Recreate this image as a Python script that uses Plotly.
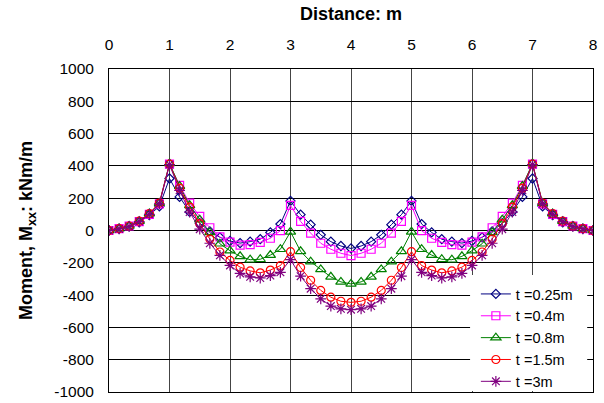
import plotly.graph_objects as go

distance = [0.000, 0.167, 0.333, 0.500, 0.667, 0.833, 1.000, 1.167, 1.333, 1.500, 1.667, 1.833,
            2.000, 2.167, 2.333, 2.500, 2.667, 2.833, 3.000, 3.167, 3.333, 3.500, 3.667, 3.833,
            4.000, 4.167, 4.333, 4.500, 4.667, 4.833, 5.000, 5.167, 5.333, 5.500, 5.667, 5.833,
            6.000, 6.167, 6.333, 6.500, 6.667, 6.833, 7.000, 7.167, 7.333, 7.500, 7.667, 7.833, 8.000]

m_025 = [0, 10, 25, 50, 95, 150, 322, 208, 115, 45, -5, -42, -65, -78, -69, -54, -12, 40,
         183, 98, 36, -27, -69, -96, -111, -96, -69, -27, 36, 98, 183, 40, -12, -54, -69, -78,
         -65, -42, -5, 45, 115, 208, 322, 150, 95, 50, 25, 10, 0]
m_04 = [0, 12, 28, 55, 100, 165, 411, 280, 170, 87, 17, -40, -72, -90, -88, -74, -48, -1,
        155, 56, -16, -79, -116, -141, -155, -141, -116, -79, -16, 56, 155, -1, -48, -74, -88, -90,
        -72, -40, 17, 87, 170, 280, 411, 165, 100, 55, 28, 12, 0]
m_08 = [0, 12, 28, 58, 105, 170, 415, 275, 156, 67, -12, -82, -125, -160, -181, -178, -152, -116,
        -8, -129, -193, -241, -287, -318, -331, -318, -287, -241, -193, -129, -8, -116, -152, -178, -181, -160,
        -125, -82, -12, 67, 156, 275, 415, 170, 105, 58, 28, 12, 0]
m_15 = [0, 12, 28, 58, 105, 170, 411, 262, 145, 42, -53, -133, -185, -227, -250, -262, -245, -217,
        -131, -229, -308, -371, -413, -438, -445, -438, -413, -371, -308, -229, -131, -217, -245, -262, -250, -227,
        -185, -133, -53, 42, 145, 262, 411, 170, 105, 58, 28, 12, 0]
m_3 = [0, 10, 25, 55, 100, 165, 408, 249, 114, 8, -79, -154, -216, -266, -287, -294, -279, -259,
       -180, -283, -360, -423, -468, -485, -490, -485, -468, -423, -360, -283, -180, -259, -279, -294, -287, -266,
       -216, -154, -79, 8, 114, 249, 408, 165, 100, 55, 25, 10, 0]

series_names = ["t =0.25m", "t =0.4m", "t =0.8m", "t =1.5m", "t =3m"]
series_values = [m_025, m_04, m_08, m_15, m_3]
colors = ["#000080", "#FF00FF", "#008000", "#FF0000", "#800080"]
symbols = ["diamond-open", "square-open", "triangle-up-open", "circle-open", "asterisk-open"]
sizes = [7, 8, 9, 8, 9]

x_ticks = [0, 1, 2, 3, 4, 5, 6, 7, 8]
y_ticks = [-1000, -800, -600, -400, -200, 0, 200, 400, 600, 800, 1000]

font_family = "Arial, Liberation Sans, sans-serif"

fig = go.Figure()
for name, vals, c, s, sz in zip(series_names, series_values, colors, symbols, sizes):
    fig.add_trace(go.Scatter(
        x=distance, y=vals, name=name, mode="lines+markers",
        line=dict(color=c, width=1),
        marker=dict(symbol=s, size=sz, color=c, line=dict(color=c, width=1.2)),
    ))

# white legend box (hides grid) that leaves the plot border visible
fig.add_shape(type="rect", xref="paper", yref="paper",
              x0=0.746, x1=0.988, y0=0.003, y1=0.362,
              fillcolor="white", line=dict(width=0), layer="above")

# base bottom margin 5: the legend (6 px below the plot) pushes it to 11 px
fig.update_layout(
    width=604, height=403,
    margin=dict(l=109, r=11, t=69, b=5),
    paper_bgcolor="white", plot_bgcolor="white",
    font=dict(family=font_family, size=15.5, color="black"),
    showlegend=True,
    legend=dict(x=0.758, xanchor="left", y=-6 / 323, yanchor="bottom",
                bgcolor="rgba(0,0,0,0)", borderwidth=0, font=dict(size=14.5),
                itemwidth=30),
    xaxis=dict(
        side="top", range=[0, 8], tickvals=x_ticks, ticktext=[str(v) for v in x_ticks],
        showgrid=True, gridcolor="#444444", gridwidth=1,
        showline=True, linecolor="black", linewidth=1, mirror=True,
        zeroline=False, ticks="", ticklabelstandoff=12, automargin=False,
        title=dict(text="<b>Distance: m</b>", font=dict(size=18), standoff=10),
    ),
    yaxis=dict(
        range=[-1000, 1000], tickvals=y_ticks, ticktext=[str(v) for v in y_ticks],
        showgrid=True, gridcolor="black", gridwidth=1,
        showline=True, linecolor="black", linewidth=1, mirror=True,
        zeroline=False, ticks="", ticklabelstandoff=11, automargin=False,
        title=dict(text="<b>Moment, M<sub>xx</sub>: kNm/m</b>", font=dict(size=18), standoff=16),
    ),
)

fig.write_html("out.html")
